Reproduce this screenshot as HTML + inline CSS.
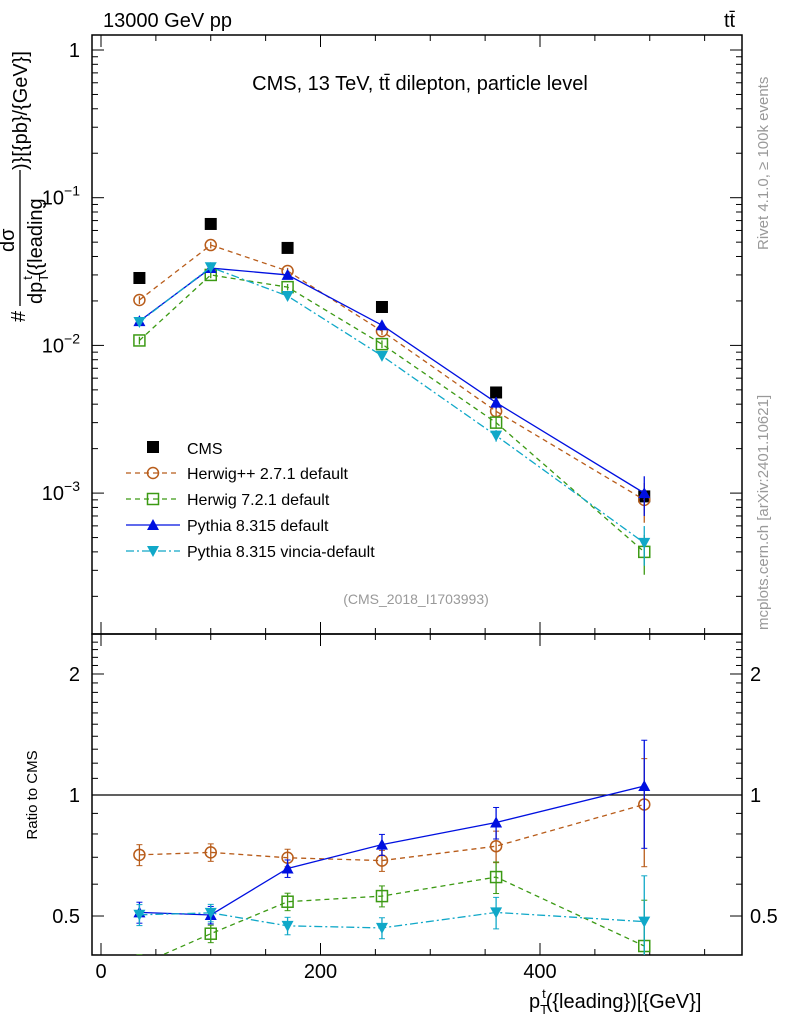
<!DOCTYPE html>
<html><head><meta charset="utf-8"><style>
body{margin:0;background:#fff;}
svg{display:block;font-family:"Liberation Sans",sans-serif;}
</style></head><body>
<svg id="c" width="786" height="1024" xmlns="http://www.w3.org/2000/svg"></svg>
<script>
const xCenters=[35,100,170,256,360,495];
const cms=[0.0286,0.0664,0.0457,0.0182,0.0048,0.00095];
const herwigpp=[0.0203,0.0478,0.0319,0.0125,0.00358,0.00090];
const herwig7=[0.0108,0.030,0.0248,0.0102,0.0030,0.00040];
const pythia=[0.0146,0.0334,0.030,0.0137,0.0041,0.00100];
const vincia=[0.0144,0.0338,0.0216,0.0085,0.00245,0.00046];
const mcErr=[0.06,0.05,0.05,0.06,0.09,0.3];
const xTicks=[0,200,400];
const mainTicks=[1,0.1,0.01,0.001];
const ratioTicks=[0.5,1,2];

const svg=document.getElementById('c');
const NS='http://www.w3.org/2000/svg';
function mk(t,a,parent){const e=document.createElementNS(NS,t);for(const k in a)e.setAttribute(k,a[k]);(parent||svg).appendChild(e);return e;}
const L=92,R=742,T=35,MB=634,RB=955;
const X=v=>101+v*(540-101)/400;
const YM=v=>50-Math.log10(v)*147.7;
const YR=v=>795-Math.log10(v)*402;

let f1=mk('rect',{x:L,y:T,width:R-L,height:MB-T,fill:'none',stroke:'#000','stroke-width':1.5});

let f2=mk('rect',{x:L,y:MB,width:R-L,height:RB-MB,fill:'none',stroke:'#000','stroke-width':1.5});


for(let v=0;v<=580;v+=50){const x=X(v);if(x<L||x>R)continue;const big=v%200===0;const len=big?12:6;
 for(const [yb,yt] of [[MB,T],[RB,MB]]){mk('line',{x1:x,x2:x,y1:yb,y2:yb-len,stroke:'#000'});mk('line',{x1:x,x2:x,y1:yt,y2:yt+len,stroke:'#000'});}}
xTicks.forEach(v=>{const t=mk('text',{x:X(v),y:978,'font-size':20,'text-anchor':'middle'});t.textContent=v;
 });
for(let d=-4;d<=0;d++)for(let m=1;m<10;m++){const v=m*Math.pow(10,d);const y=YM(v);if(y<T||y>MB)continue;const len=m===1?12:6;
 mk('line',{x1:L,x2:L+len,y1:y,y2:y,stroke:'#000'});mk('line',{x1:R,x2:R-len,y1:y,y2:y,stroke:'#000'});}
mainTicks.forEach(v=>{const y=YM(v);const t=mk('text',{x:80,y:y+7,'font-size':20,'text-anchor':'end'});
 if(v===1)t.textContent='1';else{t.textContent='10';const s=mk('tspan',{dy:-9,'font-size':14},t);s.textContent='−'+Math.round(-Math.log10(v));}
 });
for(let v=0.4;v<=2.5;v+=0.1){const y=YR(v);if(y<MB||y>RB)continue;const big=[0.5,1,2].some(q=>Math.abs(q-v)<1e-6);const len=big?12:6;
 mk('line',{x1:L,x2:L+len,y1:y,y2:y,stroke:'#000'});mk('line',{x1:R,x2:R-len,y1:y,y2:y,stroke:'#000'});}
ratioTicks.forEach(v=>{const y=YR(v);for(const [x,a] of [[80,'end'],[750,'start']]){const t=mk('text',{x:x,y:y+7,'font-size':20,'text-anchor':a});t.textContent=v;
 }});
mk('line',{x1:L,x2:R,y1:YR(1),y2:YR(1),stroke:'#000','stroke-width':1.2});

function txt(s,a,name){const t=mk('text',a);t.textContent=s;return t;}
txt('13000 GeV pp',{x:103,y:27,'font-size':20},'energy-label');
txt('tt̄',{x:724,y:27,'font-size':20},'process-label');
txt('CMS, 13 TeV, tt̄ dilepton, particle level',{x:420,y:90,'font-size':20,'text-anchor':'middle'},'plot-title');
txt('(CMS_2018_I1703993)',{x:416,y:604,'font-size':14,'text-anchor':'middle',fill:'#999'},'analysis-id');
txt('Rivet 4.1.0, ≥ 100k events',{x:0,y:0,'font-size':15,fill:'#999',transform:'translate(768,250) rotate(-90)'},'rivet-label');
txt('mcplots.cern.ch [arXiv:2401.10621]',{x:0,y:0,'font-size':15,fill:'#999',transform:'translate(768,630) rotate(-90)'},'mcplots-label');
txt('Ratio to CMS',{x:0,y:0,'font-size':15,'text-anchor':'middle',transform:'translate(37,795) rotate(-90)'},'ratio-y-axis-title');
let xt=txt('p',{x:529,y:1008,'font-size':20},'x-axis-title');
let s1=mk('tspan',{dy:6,'font-size':13},xt);s1.textContent='T';
let s2=mk('tspan',{dy:-16,dx:-6,'font-size':13},xt);s2.textContent='t';
let s3=mk('tspan',{dy:10},xt);s3.textContent='({leading})[{GeV}]';
const g=mk('g',{transform:'translate(0,322) rotate(-90)'});
mk('text',{x:0,y:25,'font-size':20},g).textContent='#';
mk('line',{x1:16,x2:152,y1:20,y2:20,stroke:'#000','stroke-width':1.3},g);
mk('text',{x:70,y:14,'font-size':20},g).textContent='dσ';
const yt=mk('text',{x:18,y:42,'font-size':20},g);yt.textContent='dp';
const ys1=mk('tspan',{dy:6,'font-size':13},yt);ys1.textContent='T';
const ys2=mk('tspan',{dy:-16,dx:-6,'font-size':13},yt);ys2.textContent='t';
const ys3=mk('tspan',{dy:10},yt);ys3.textContent='({leading';
mk('text',{x:152,y:27,'font-size':20},g).textContent=')}[{pb}/{GeV}]';

function marker(type,x,y,col,parent){
 if(type==='sq')return mk('rect',{x:x-6,y:y-6,width:12,height:12,fill:'#000'},parent);
 if(type==='circ')return mk('circle',{cx:x,cy:y,r:5.5,fill:'none',stroke:col,'stroke-width':1.5},parent);
 if(type==='osq')return mk('rect',{x:x-5.5,y:y-5.5,width:11,height:11,fill:'none',stroke:col,'stroke-width':1.5},parent);
 if(type==='up')return mk('path',{d:`M${x},${y-6}L${x+6},${y+5}L${x-6},${y+5}Z`,fill:col},parent);
 if(type==='dn')return mk('path',{d:`M${x},${y+6}L${x+6},${y-5}L${x-6},${y-5}Z`,fill:col},parent);
}
const clipM=mk('clipPath',{id:'cm'});mk('rect',{x:L,y:T,width:R-L,height:MB-T},clipM);
const clipR=mk('clipPath',{id:'cr'});mk('rect',{x:L,y:MB,width:R-L,height:RB-MB},clipR);
const series=[
 {name:'herwigpp',vals:herwigpp,col:'#b85c1a',type:'circ',dash:'5,4',label:'Herwig++ 2.7.1 default'},
 {name:'herwig7',vals:herwig7,col:'#3c9a14',type:'osq',dash:'5,4',label:'Herwig 7.2.1 default'},
 {name:'pythia',vals:pythia,col:'#0010e0',type:'up',dash:'',label:'Pythia 8.315 default'},
 {name:'vincia',vals:vincia,col:'#10a8c8',type:'dn',dash:'8,3,2,3',label:'Pythia 8.315 vincia-default'}];
const gc=mk('g',{});
cms.forEach((v,i)=>{const m=marker('sq',X(xCenters[i]),YM(v),'#000',gc);});
series.forEach(s=>{
 const gm=mk('g',{'clip-path':'url(#cm)'});
 mk('polyline',{points:s.vals.map((v,i)=>X(xCenters[i])+','+YM(v)).join(' '),fill:'none',stroke:s.col,'stroke-width':1.3,'stroke-dasharray':s.dash},gm);
 s.vals.forEach((v,i)=>{const x=X(xCenters[i]);const e=mcErr[i]*v;mk('line',{x1:x,x2:x,y1:YM(v+e),y2:YM(v-e),stroke:s.col,'stroke-width':1.3},gm);
  const m=marker(s.type,x,YM(v),s.col,gm);});
 const gr=mk('g',{'clip-path':'url(#cr)'});
 const r=s.vals.map((v,i)=>v/cms[i]);
 mk('polyline',{points:r.map((v,i)=>X(xCenters[i])+','+YR(v)).join(' '),fill:'none',stroke:s.col,'stroke-width':1.3,'stroke-dasharray':s.dash},gr);
 r.forEach((v,i)=>{const x=X(xCenters[i]);const e=mcErr[i]*v;mk('line',{x1:x,x2:x,y1:YR(v+e),y2:YR(v-e),stroke:s.col,'stroke-width':1.3},gr);
  mk('line',{x1:x-3,x2:x+3,y1:YR(v+e),y2:YR(v+e),stroke:s.col},gr);mk('line',{x1:x-3,x2:x+3,y1:YR(v-e),y2:YR(v-e),stroke:s.col},gr);
  const m=marker(s.type,x,YR(v),s.col,gr);});
});
const lg=mk('g',{});
const le0=mk('g',{},lg);
marker('sq',153,447,'#000',le0);mk('text',{x:187,y:454,'font-size':16},le0).textContent='CMS';
series.forEach((s,i)=>{const y=473+i*26;const e=mk('g',{},lg);
 mk('line',{x1:126,x2:180,y1:y,y2:y,stroke:s.col,'stroke-width':1.3,'stroke-dasharray':s.dash},e);marker(s.type,153,y,s.col,e);
 mk('text',{x:187,y:y+6,'font-size':16},e).textContent=s.label;});
</script>
</body></html>
